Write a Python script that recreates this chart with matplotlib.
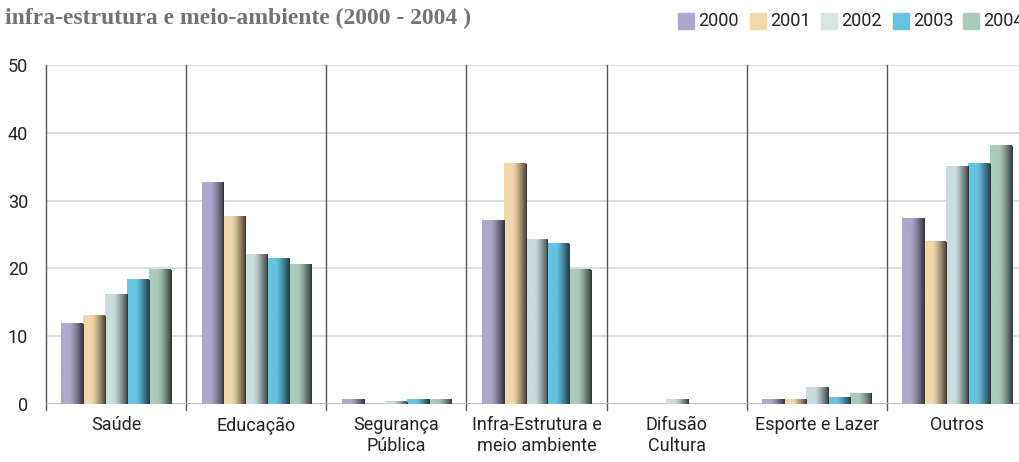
import matplotlib.pyplot as plt
import numpy as np
from matplotlib.colors import to_rgb

categorias = ['Saúde', 'Educação', 'Segurança\nPública', 'Infra-Estrutura e\nmeio ambiente',
              'Difusão\nCultura', 'Esporte e Lazer', 'Outros']
anos = ['2000', '2001', '2002', '2003', '2004']
v2000 = [11.8, 32.7, 0.7, 27.1, 0.0, 0.7, 27.4]
v2001 = [13.0, 27.7, 0.0, 35.4, 0.0, 0.7, 23.9]
v2002 = [16.2, 22.1, 0.3, 24.2, 0.7, 2.5, 35.1]
v2003 = [18.3, 21.5, 0.7, 23.6, 0.0, 1.0, 35.4]
v2004 = [19.8, 20.6, 0.7, 19.8, 0.0, 1.6, 38.1]
series = [v2000, v2001, v2002, v2003, v2004]
cores = ['#ADA8CB', '#F2D7AC', '#C8DEDD', '#66C4E2', '#AACBBB']
cores_leg = ['#ADA8CB', '#F2D7AC', '#D6E6E2', '#66C4E2', '#AACBBB']

cond = ['Roboto', 'DejaVu Sans']

fig = plt.figure(figsize=(10.19, 4.62), dpi=100)
# axes goes a bit past the right edge, like the cropped original
ax = fig.add_axes([46/1019, 1-404/462, 981/1019, 339/462])

largura = 0.78/5
for i, vals in enumerate(series):
    base = np.array(to_rgb(cores[i]))
    t = np.linspace(0, 1, 60)
    k = np.clip((t-0.4)/0.6, 0, 1)**1.3
    grad = base[None, :]*(1-0.65*k[:, None])
    img = grad[None, :, :]
    for j, v in enumerate(vals):
        if v <= 0:
            continue
        x0 = j + 0.11 + i*largura
        ax.imshow(img, extent=[x0, x0+largura, 0, v], aspect='auto', zorder=3,
                  interpolation='bilinear')
        ax.plot([x0+largura, x0+largura], [0, v], color='#333333', lw=0.7, zorder=4)

ax.set_xlim(0, 7)
ax.set_ylim(0, 50)
ax.set_yticks([0, 10, 20, 30, 40, 50])
ax.yaxis.grid(True, color='#d9d9d9', lw=1.3, zorder=0)
ax.set_axisbelow(True)
for x in range(0, 7):
    ax.plot([x, x], [-0.9, 50], color='#555555', lw=1.0, clip_on=False, zorder=2)
ax.axhline(0, color='#bbbbbb', lw=1.3, zorder=2)
for s in ax.spines.values():
    s.set_visible(False)
ax.set_xticks(np.arange(7)+0.5)
ax.set_xticklabels(categorias, family=cond, fontsize=13, color='#222222', linespacing=1.2)
ax.tick_params(axis='x', length=0, pad=9)
ax.tick_params(axis='y', length=0, pad=13, labelsize=13, labelcolor='#222222')
for lb in ax.get_yticklabels():
    lb.set_family(cond)

fig.text(5/1019, 1-18/462, 'infra-estrutura e meio-ambiente (2000 - 2004 )',
         family=['Liberation Serif', 'DejaVu Serif'], fontweight='bold', fontsize=17,
         color='#737373', va='center')

xs = [678, 750, 821, 893, 963]
for x, c, a in zip(xs, cores_leg, anos):
    fig.patches.append(plt.Rectangle((x/1019, 1-29/462), 16/1019, 16/462,
                                     transform=fig.transFigure, color=c))
    fig.text((x+20)/1019, 1-21/462, a, family=cond, fontsize=13, color='#222222', va='center')

fig.savefig('out.png', dpi=100)
